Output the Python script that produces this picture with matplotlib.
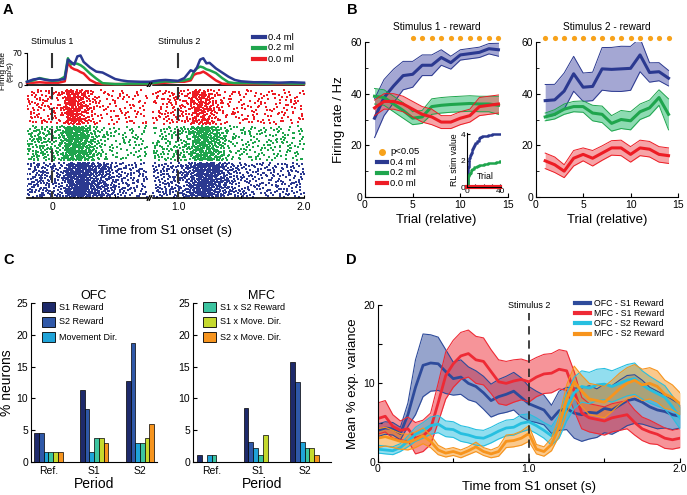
import numpy as np
import matplotlib
matplotlib.use('Agg')
import matplotlib.pyplot as plt
from matplotlib.lines import Line2D
from matplotlib.patches import Rectangle

plt.rcParams['font.family'] = ['Liberation Sans', 'DejaVu Sans']

W, H = 687, 495
def fx(px): return px / W
def fy(py): return 1 - py / H
def rect(l, t, r, b): return [fx(l), fy(b), (r - l) / W, (b - t) / H]

# ---------------- DATA ----------------
# Panel A: PSTH (sp/s)
psth_t = [-0.2, -0.15, -0.1, -0.05, 0.0, 0.05, 0.1, 0.125, 0.15, 0.175, 0.2, 0.225, 0.25, 0.3, 0.35, 0.4, 0.45, 0.5, 0.55, 0.6, 0.7, 0.78,
          0.8, 0.85, 0.9, 0.95, 1.0, 1.05, 1.1, 1.125, 1.15, 1.175, 1.2, 1.225, 1.25, 1.3, 1.35, 1.4, 1.45, 1.5, 1.6, 1.7, 1.8, 1.9, 2.0]
psth_04 = [7, 12, 14, 11, 10, 11, 13, 55, 50, 44, 62, 64, 50, 38, 29, 27, 20, 13, 10, 8, 7, 7,
           8, 10, 11, 10, 9, 15, 32, 29, 38, 55, 58, 47, 48, 36, 27, 18, 11, 8, 6, 6, 5, 6, 5]
psth_02 = [7, 10, 15, 12, 9, 10, 18, 58, 45, 47, 46, 43, 38, 25, 14, 4, 3, 2, 2, 3, 3, 3,
           4, 6, 8, 7, 8, 10, 14, 28, 36, 40, 38, 34, 32, 26, 15, 6, 4, 4, 4, 3, 4, 3, 3]
psth_00 = [5, 5, 6, 5, 5, 5, 8, 50, 38, 34, 32, 28, 25, 11, 4, 2, 2, 2, 2, 2, 2, 2,
           3, 4, 5, 6, 7, 7, 10, 22, 25, 26, 29, 25, 20, 10, 3, 2, 2, 2, 2, 2, 2, 2, 2]
a_labels = ['0.4 ml', '0.2 ml', '0.0 ml']
a_ticks = [0, 0.5, 1.0, 1.5, 2.0]
a_ticklabels = ['0', '', '1.0', '', '2.0']

# Panel B: firing rate vs trial
trials = list(range(1, 15))
s1_04_mean = [30.5, 38.5, 43, 47, 47.5, 51, 51, 54, 52, 55, 55.5, 56, 57.4, 57]
s1_04_sem = [7.5, 7, 6.5, 5.5, 5, 4, 4, 3, 2.5, 2, 2, 2, 2, 2.5]
s1_02_mean = [39, 38.5, 36, 33.5, 30.5, 31, 35, 35.5, 35.8, 36, 36.2, 36, 36, 35.5]
s1_02_sem = [3, 3, 3, 3, 2.5, 2.5, 3, 3, 3, 3, 3, 3, 3, 3.5]
s1_00_mean = [34.5, 37, 37, 36, 34, 32, 31, 29, 29, 30.5, 31.5, 35, 35.5, 36]
s1_00_sem = [3, 3, 3, 3, 3, 3, 3, 2.5, 2.5, 2.5, 2.5, 3.5, 3.5, 3.5]
s2_04_mean = [37.3, 37.6, 41, 47.7, 42.5, 42.8, 49.6, 49.4, 49.6, 49.8, 55, 48.2, 48.5, 46]
s2_04_sem = [6.25, 6, 7, 6.75, 5.5, 5.5, 8.25, 8.5, 8.75, 8.5, 6.5, 3.75, 3.5, 3]
s2_02_mean = [31, 32, 34, 35, 35, 32.5, 32, 28.5, 30, 29.5, 33, 34.5, 38.5, 32]
s2_02_sem = [1.5, 1.8, 2, 2, 2.2, 3, 3.2, 3, 3.5, 3.5, 3, 3, 3, 6]
s2_00_mean = [14, 12.5, 10, 15, 16.5, 15, 17, 19, 19, 16.5, 19, 18.5, 16.5, 16]
s2_00_sem = [3, 3, 2.5, 3, 2.5, 3, 2.8, 2.8, 3, 3, 3, 3, 3, 3]
sig_s1 = [5, 6, 7, 8, 9, 10, 11, 12, 13, 14]
sig_s2 = [1, 2, 3, 4, 5, 6, 7, 8, 9, 10, 11, 12, 13, 14]
# inset: RL stimulus value
rl_trial = [0, 1, 2, 3, 4, 5, 6, 7, 8, 9, 10, 12, 14, 16, 18, 20, 25, 30, 35, 40]
rl_04 = [0, 1.5, 1.9, 2.2, 2.4, 2.6, 2.9, 3.0, 3.1, 3.2, 3.35, 3.5, 3.7, 3.8, 3.85, 3.9, 3.95, 4.0, 4.0, 4.0]
rl_02 = [0, 0.8, 0.9, 1.0, 1.1, 1.3, 1.35, 1.4, 1.5, 1.5, 1.55, 1.6, 1.65, 1.7, 1.7, 1.75, 1.8, 1.85, 1.9, 2.0]
rl_00 = [0] * 20

# Panel C: % neurons
periods = ['Ref.', 'S1', 'S2']
c_labels = ['S1 Reward', 'S2 Reward', 'Movement Dir.', 'S1 x S2 Reward', 'S1 x Move. Dir.', 'S2 x Move. Dir.']
ofc_s1rew = [4.6, 11.3, 12.8]
ofc_s2rew = [4.5, 8.3, 18.8]
ofc_move = [1.5, 1.5, 3.0]
ofc_s1xs2 = [1.5, 3.8, 3.0]
ofc_s1xmove = [1.5, 3.8, 3.8]
ofc_s2xmove = [1.5, 3.0, 6.0]
mfc_s1rew = [1.0, 8.4, 15.8]
mfc_s2rew = [0.0, 3.1, 12.6]
mfc_move = [1.0, 2.1, 3.1]
mfc_s1xs2 = [1.0, 1.0, 2.1]
mfc_s1xmove = [0.0, 4.2, 2.1]
mfc_s2xmove = [0.0, 0.0, 1.0]

# Panel D: mean % explained variance
d_t = [round(0.05 * i, 2) for i in range(41)]
ofc_s1_mean = [4.0, 4.3, 4.2, 3.6, 6.0, 9.5, 12.3, 12.6, 12.5, 11.5, 10.6, 10.8, 10.0, 9.6, 8.8, 7.8, 8.3, 8.6, 9.0, 8.2,
               7.4, 7.0, 6.6, 5.4, 6.5, 6.8, 6.2, 6.0, 6.3, 6.2, 6.8, 6.6, 7.2, 7.8, 8.0, 7.6, 7.0, 6.6, 6.4, 6.0, 5.8]
ofc_s1_sem = [0.8, 0.8, 0.8, 0.8, 1.5, 3.5, 4, 3.6, 3.4, 2.8, 2.1, 2.2, 2.1, 2, 2.1, 2.1, 2.2, 2.3, 2.4, 2.5,
              2.2, 2, 1.9, 1.8, 2.5, 2.7, 3.2, 3.4, 3.4, 3.1, 3.1, 3.1, 3.2, 3.2, 3.1, 2.8, 2.5, 2.4, 2.1, 1.9, 1.5]
mfc_s1_mean = [5.5, 5.8, 4.5, 4.0, 4.2, 3.0, 3.3, 4.2, 7.5, 11.0, 12.5, 13.5, 13.8, 13.0, 12.8, 11.5, 10.2, 10.0, 10.3, 10.5,
               10.2, 10.8, 11.2, 11.3, 11.8, 11.6, 9.0, 6.2, 5.6, 5.4, 5.2, 5.6, 5.8, 6.0, 5.0, 4.2, 3.8, 3.5, 3.0, 2.8, 3.0]
mfc_s1_sem = [2, 2, 1.5, 1.2, 1.5, 2, 2, 2, 2.5, 3, 3, 3, 3, 3, 3, 2.8, 2.8, 2.8, 2.7, 2.6,
              2.6, 2.5, 2.5, 2.5, 2.5, 2.5, 2.5, 2, 1.8, 1.8, 1.8, 1.8, 1.8, 1.8, 1.6, 1.5, 1.5, 1.3, 1.3, 1.2, 1.2]
ofc_s2_mean = [1.6, 1.5, 1.4, 1.8, 2.6, 3.5, 4.0, 4.6, 4.8, 4.2, 4.1, 3.6, 3.4, 3.1, 3.0, 3.4, 3.9, 4.3, 4.4, 4.9,
               5.1, 4.6, 4.0, 3.3, 4.5, 7.0, 8.8, 9.6, 9.4, 9.8, 9.9, 9.6, 10.0, 10.4, 10.6, 9.8, 9.2, 8.7, 8.2, 7.0, 5.6]
ofc_s2_sem = [0.5, 0.5, 0.5, 0.5, 0.7, 0.9, 1, 1.1, 1.1, 1, 1, 1, 1, 1, 1, 1, 1, 1, 1, 1.1,
              1, 1, 1, 1.2, 1.5, 1.8, 2, 2, 2, 2, 2, 2, 2, 2, 2, 1.8, 1.7, 1.6, 1.5, 1.4, 1.4]
mfc_s2_mean = [3.0, 3.2, 2.9, 2.6, 2.5, 2.8, 3.3, 2.6, 1.5, 1.1, 1.3, 1.0, 1.4, 1.9, 1.3, 1.0, 1.3, 2.6, 2.7, 3.0,
               3.6, 1.6, 1.3, 2.2, 4.5, 8.0, 10.2, 9.0, 8.0, 7.8, 7.6, 8.4, 9.3, 10.0, 10.4, 9.8, 10.0, 9.6, 8.6, 8.2, 7.4]
mfc_s2_sem = [1.2, 1.2, 1.1, 1, 1, 1, 1, 0.8, 0.6, 0.5, 0.5, 0.5, 0.5, 0.6, 0.5, 0.5, 0.6, 0.8, 0.8, 0.9,
              1, 0.6, 0.6, 0.8, 1.2, 1.8, 2, 2, 2, 2, 2, 2, 2, 2, 2, 2, 2, 2, 1.8, 1.6, 1.4]
d_labels = ['OFC - S1 Reward', 'MFC - S1 Reward', 'OFC - S2 Reward', 'MFC - S2 Reward']

# ---------------- STYLE ----------------
BLUE, GREEN, RED = '#2b3990', '#1fa54d', '#ed1c24'
ORANGE_DOT = '#f7a21b'
C_COLORS = ['#1e2a6b', '#2f58a8', '#1fa3d8', '#3cc4a0', '#c5d92d', '#f6941e']
D_COLORS = ['#2e4b9b', '#ee2a35', '#27bfe0', '#f7941d']
TICK_FS = 7.5
LAB_FS = 9.5

fig = plt.figure(figsize=(W / 100, H / 100), dpi=100)

def letter(px, py, s):
    fig.text(fx(px), fy(py), s, fontsize=10.5, fontweight='bold', ha='left', va='top')

letter(3, 3, 'A'); letter(347, 3, 'B'); letter(3, 253, 'C'); letter(346, 253, 'D')

# ---------------- PANEL A ----------------
ax_p = fig.add_axes(rect(27, 52.7, 304, 85))
for y, c in zip([psth_00, psth_02, psth_04], [RED, GREEN, BLUE]):
    ax_p.plot(psth_t, y, color=c, lw=1.8, clip_on=False, zorder=3)
ax_p.set_xlim(-0.2, 2.0)
ax_p.set_ylim(0, 70)
ax_p.set_yticks([0, 70])
ax_p.set_xticks([])
ax_p.tick_params(axis='y', labelsize=6.3, direction='out', length=2, pad=1)
for s in ['top', 'right']:
    ax_p.spines[s].set_visible(False)
ax_p.spines['bottom'].set_linewidth(1.2)
ax_p.set_ylabel('Firing rate\n(sp/s)', fontsize=6.0, linespacing=1.0)
ax_p.yaxis.set_label_coords(-0.047, 0.42)
for x0 in [0.0, 1.0]:
    ax_p.plot([x0, x0], [38, 68], color='#333333', lw=1.5, zorder=4)

# legend A
for i, (lab, c) in enumerate(zip(a_labels, [BLUE, GREEN, RED])):
    py = 37 + i * 11
    fig.add_artist(Line2D([fx(253), fx(265)], [fy(py), fy(py)], color=c, lw=3))
    fig.text(fx(268), fy(py), lab, fontsize=6.8, va='center', ha='left')
fig.text(fx(52.5), fy(42), 'Stimulus 1', fontsize=6.5, ha='center', va='center')
fig.text(fx(179), fy(42), 'Stimulus 2', fontsize=6.5, ha='center', va='center')

# raster
ax_r = fig.add_axes(rect(27, 87, 304, 198))

def halton(n, base, start):
    i = np.arange(start, start + n)
    out = np.zeros(n)
    f = 1.0
    while np.any(i > 0):
        f /= base
        out += f * (i % base)
        i = i // base
    return out

N = 5200
floor = 4.0
rmax = 60.0
for b, (rate, c) in enumerate(zip([psth_00, psth_02, psth_04], [RED, GREEN, BLUE])):
    st = 1 + b * N
    ht = halton(N, 2, st)
    hy = halton(N, 3, st)
    hu = halton(N, 5, st)
    t = -0.2 + 2.2 * ht
    r = np.interp(t, psth_t, rate)
    keep = (hu < (r + floor) / (rmax + floor)) & ~((t > 0.755) & (t < 0.80))
    y0 = 2 - b
    ax_r.scatter(t[keep], y0 + 0.03 + 0.94 * hy[keep], s=1.0, marker='s', color=c, linewidths=0)
for x0 in [0.0, 1.0]:
    ax_r.plot([x0, x0], [3.05, 0.0], color='#333333', lw=1.5, ls=(0, (6, 4)), zorder=4)
ax_r.set_xlim(-0.2, 2.0)
ax_r.set_ylim(0, 3.05)
ax_r.set_yticks([])
ax_r.set_xticks(a_ticks)
ax_r.set_xticklabels(a_ticklabels)
ax_r.tick_params(axis='x', labelsize=TICK_FS, direction='in', length=2.5, pad=3)
for s in ['top', 'right', 'left']:
    ax_r.spines[s].set_visible(False)
ax_r.spines['bottom'].set_linewidth(1.2)
ax_r.set_xlabel('Time from S1 onset (s)', fontsize=LAB_FS, labelpad=9)

# axis-break marks
for ax in (ax_p, ax_r):
    tr = ax.get_xaxis_transform()
    dy = 0.06 if ax is ax_p else 0.02
    ax.add_patch(Rectangle((0.758, -dy * 0.6), 0.03, dy * 1.2, transform=tr, color='white', clip_on=False, zorder=5))
    for dx in [0.0, 0.016]:
        ax.plot([0.755 + dx, 0.775 + dx], [-dy, dy], transform=tr, color='black', lw=1.0, clip_on=False, zorder=6)

# ---------------- PANEL B ----------------
def band(ax, x, m, s, c, fill_c, lw=2.2):
    m = np.array(m); s = np.array(s)
    ax.fill_between(x, m - s, m + s, color=fill_c, alpha=0.55, lw=0)
    ax.plot(x, m - s, color=c, lw=0.7)
    ax.plot(x, m + s, color=c, lw=0.7)
    ax.plot(x, m, color=c, lw=lw)

FILL_B = '#5a5fb0'
FILL_G = '#2fbf73'
FILL_R = '#f05a5f'

def style_b(ax):
    ax.set_xlim(0, 15)
    ax.set_ylim(0, 60)
    ax.set_xticks([0, 5, 10, 15])
    ax.set_yticks([0, 20, 40, 60])
    ax.set_yticks([10, 30, 50], minor=True)
    ax.tick_params(labelsize=TICK_FS, direction='in', length=3, pad=2)
    ax.tick_params(which='minor', direction='in', length=2)
    for s in ['top', 'right']:
        ax.spines[s].set_visible(False)
    ax.set_xlabel('Trial (relative)', fontsize=LAB_FS, labelpad=3)

ax_b1 = fig.add_axes(rect(365, 42, 508, 197))
band(ax_b1, trials, s1_04_mean, s1_04_sem, BLUE, FILL_B)
band(ax_b1, trials, s1_02_mean, s1_02_sem, GREEN, FILL_G)
band(ax_b1, trials, s1_00_mean, s1_00_sem, RED, FILL_R)
ax_b1.scatter(sig_s1, [61.5] * len(sig_s1), s=14, color=ORANGE_DOT, clip_on=False, zorder=5, linewidths=0)
style_b(ax_b1)
ax_b1.set_title('Stimulus 1 - reward', fontsize=7.3, pad=9)
ax_b1.set_ylabel('Firing rate / Hz', fontsize=LAB_FS, labelpad=4)

ax_b2 = fig.add_axes(rect(535.7, 42, 678, 197))
band(ax_b2, trials, s2_04_mean, s2_04_sem, BLUE, FILL_B)
band(ax_b2, trials, s2_02_mean, s2_02_sem, GREEN, FILL_G)
band(ax_b2, trials, s2_00_mean, s2_00_sem, RED, FILL_R)
ax_b2.scatter(sig_s2, [61.5] * len(sig_s2), s=14, color=ORANGE_DOT, clip_on=False, zorder=5, linewidths=0)
style_b(ax_b2)
ax_b2.set_title('Stimulus 2 - reward', fontsize=7.3, pad=9)

# legend B
fig.add_artist(Line2D([fx(381.7)], [fy(151.7)], marker='o', color=ORANGE_DOT, ms=4, lw=0))
fig.text(fx(390), fy(151.7), 'p<0.05', fontsize=6.8, va='center')
for i, (lab, c) in enumerate(zip(a_labels, [BLUE, GREEN, RED])):
    py = 162.3 + i * 10.4
    fig.add_artist(Line2D([fx(376.7), fx(386.7)], [fy(py), fy(py)], color=c, lw=3))
    fig.text(fx(390), fy(py), lab, fontsize=6.8, va='center')

# inset
ax_in = fig.add_axes(rect(467, 133, 501, 187))
ax_in.plot(rl_trial, rl_04, color=BLUE, lw=1.8, drawstyle='steps-post')
ax_in.plot(rl_trial, rl_02, color=GREEN, lw=1.8, drawstyle='steps-post')
ax_in.plot(rl_trial, rl_00, color=RED, lw=3, clip_on=False, zorder=2)
ax_in.set_xlim(0, 41)
ax_in.set_ylim(0, 4.1)
ax_in.set_xticks([0, 10, 20, 30, 40])
ax_in.set_xticklabels(['0', '', '', '', '40'])
ax_in.set_yticks([0, 2, 4])
ax_in.tick_params(labelsize=6, direction='in', length=2, pad=1, zorder=5)
for s in ['top', 'right']:
    ax_in.spines[s].set_visible(False)
ax_in.set_ylabel('RL stim value', fontsize=6.3, labelpad=1)
ax_in.text(22, 0.45, 'Trial', fontsize=6.3, ha='center', va='bottom')

# ---------------- PANEL C ----------------
def bars(ax, series, xlim, title):
    x = np.arange(1, 4)
    w = 0.103
    for j, (vals, c) in enumerate(zip(series, C_COLORS)):
        ax.bar(x + (j - 2.5) * w, vals, width=w, color=c, edgecolor='black', linewidth=0.5, zorder=3)
    ax.set_xlim(*xlim)
    ax.set_ylim(0, 25)
    ax.set_yticks([0, 5, 10, 15, 20, 25])
    ax.set_xticks(x)
    ax.set_xticklabels(periods)
    ax.tick_params(axis='y', labelsize=TICK_FS, direction='in', length=3, pad=2)
    ax.tick_params(axis='x', labelsize=TICK_FS, length=0, pad=3)
    for s in ['top', 'right']:
        ax.spines[s].set_visible(False)
    ax.set_xlabel('Period', fontsize=LAB_FS + 0.5, labelpad=1)
    ax.set_title(title, fontsize=9, pad=3)

ax_c1 = fig.add_axes(rect(30.7, 303.3, 157, 461.7))
bars(ax_c1, [ofc_s1rew, ofc_s2rew, ofc_move, ofc_s1xs2, ofc_s1xmove, ofc_s2xmove], (0.614, 3.37), 'OFC')
ax_c1.set_ylabel('% neurons', fontsize=LAB_FS + 0.5, labelpad=2)
ax_c2 = fig.add_axes(rect(192.7, 303.3, 331, 461.7))
bars(ax_c2, [mfc_s1rew, mfc_s2rew, mfc_move, mfc_s1xs2, mfc_s1xmove, mfc_s2xmove], (0.593, 3.57), 'MFC')

for k in range(3):
    for lx, idx in [(41.7, k), (203, k + 3)]:
        py = 307 + k * 15
        fig.add_artist(Rectangle((fx(lx), fy(py + 5)), 13.3 / W, 10 / H, facecolor=C_COLORS[idx],
                                 edgecolor='black', lw=0.6, transform=fig.transFigure))
        fig.text(fx(lx + 17), fy(py), c_labels[idx], fontsize=6.5, va='center')

# ---------------- PANEL D ----------------
ax_d = fig.add_axes(rect(377.7, 305, 680, 461.7))
d_series = [(ofc_s1_mean, ofc_s1_sem), (mfc_s1_mean, mfc_s1_sem), (ofc_s2_mean, ofc_s2_sem), (mfc_s2_mean, mfc_s2_sem)]
for (m, s), c in zip(d_series, D_COLORS):
    m = np.array(m); s = np.array(s)
    ax_d.fill_between(d_t, m - s, m + s, color=c, alpha=0.5, lw=0)
    ax_d.plot(d_t, m - s, color=c, lw=0.8)
    ax_d.plot(d_t, m + s, color=c, lw=0.8)
    ax_d.plot(d_t, m, color=c, lw=2)
ax_d.plot([1.0, 1.0], [0, 19.0], color='#222222', lw=1.2, ls=(0, (5, 3.5)))
ax_d.text(1.0, 19.4, 'Stimulus 2', fontsize=6.5, ha='center', va='bottom')
ax_d.set_xlim(0, 2.0)
ax_d.set_ylim(0, 20)
ax_d.set_xticks([0, 0.5, 1.0, 1.5, 2.0])
ax_d.set_xticklabels(['0', '', '1.0', '', '2.0'])
ax_d.set_yticks([0, 5, 10, 15, 20])
ax_d.set_yticklabels(['0', '', '10', '', '20'])
ax_d.tick_params(labelsize=TICK_FS, direction='in', length=3, pad=2)
for s in ['top', 'right']:
    ax_d.spines[s].set_visible(False)
ax_d.set_xlabel('Time from S1 onset (s)', fontsize=LAB_FS, labelpad=5)
ax_d.set_ylabel('Mean % exp. variance', fontsize=LAB_FS, labelpad=3)

for i, (lab, c) in enumerate(zip(d_labels, D_COLORS)):
    py = 303 + i * 10.2
    fig.add_artist(Line2D([fx(575), fx(590)], [fy(py), fy(py)], color=c, lw=3))
    fig.text(fx(594), fy(py), lab, fontsize=6.3, va='center')

fig.savefig('out.png', dpi=100)
